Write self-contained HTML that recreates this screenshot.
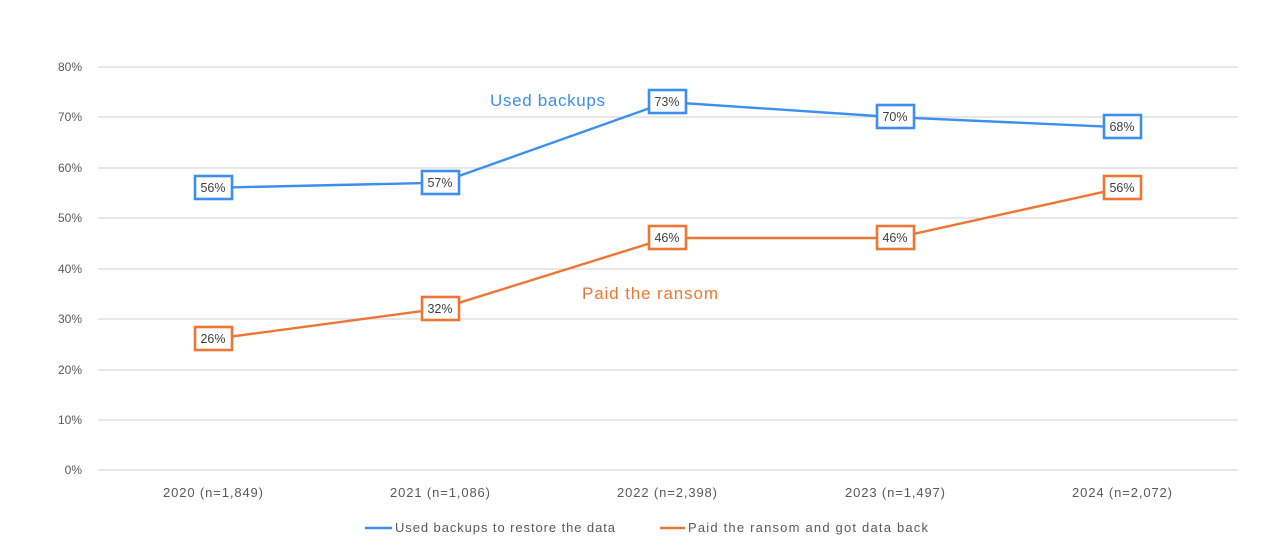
<!DOCTYPE html><html><head><style>body{margin:0;background:#fff}svg{display:block}text{font-family:"Liberation Sans",sans-serif}</style></head><body>
<svg width="1268" height="554" viewBox="0 0 1268 554">
<g stroke="#d9d9d9" stroke-width="1.3">
<line x1="98" x2="1238" y1="67" y2="67"/><line x1="98" x2="1238" y1="117" y2="117"/><line x1="98" x2="1238" y1="168" y2="168"/><line x1="98" x2="1238" y1="218" y2="218"/><line x1="98" x2="1238" y1="269" y2="269"/><line x1="98" x2="1238" y1="319" y2="319"/><line x1="98" x2="1238" y1="370" y2="370"/><line x1="98" x2="1238" y1="420" y2="420"/><line x1="98" x2="1238" y1="470" y2="470"/></g>
<g font-size="12" fill="#595959" text-anchor="end">
<text x="82" y="71">80%</text><text x="82" y="121">70%</text><text x="82" y="172">60%</text><text x="82" y="222">50%</text><text x="82" y="273">40%</text><text x="82" y="323">30%</text><text x="82" y="374">20%</text><text x="82" y="424">10%</text><text x="82" y="474">0%</text></g>
<g font-size="13" fill="#595959">
<text x="163" y="497" textLength="100">2020 (n=1,849)</text><text x="390" y="497" textLength="100">2021 (n=1,086)</text><text x="617" y="497" textLength="100">2022 (n=2,398)</text><text x="845" y="497" textLength="100">2023 (n=1,497)</text><text x="1072" y="497" textLength="100">2024 (n=2,072)</text></g>
<polyline fill="none" stroke="#3d8fef" stroke-width="2.4" points="213,187.8 440,182.7 667,102 895,117.2 1122,127.3"/>
<polyline fill="none" stroke="#ed7634" stroke-width="2.4" points="213,339 440,308.7 667,238 895,238 1122,187.8"/>
<g font-size="12.5" fill="#404040" text-anchor="middle" stroke-width="2.6">
<g stroke="#3d8fef" fill="#fff"><rect x="195" y="176" width="37" height="23"/><rect x="422" y="171" width="37" height="23"/><rect x="649" y="90" width="37" height="23"/><rect x="877" y="105" width="37" height="23"/><rect x="1104" y="115" width="37" height="23"/></g>
<g stroke="#ed7634" fill="#fff"><rect x="195" y="327" width="37" height="23"/><rect x="422" y="297" width="37" height="23"/><rect x="649" y="226" width="37" height="23"/><rect x="877" y="226" width="37" height="23"/><rect x="1104" y="176" width="37" height="23"/></g>
<text x="213" y="192">56%</text><text x="440" y="187">57%</text><text x="667" y="106">73%</text><text x="895" y="121">70%</text><text x="1122" y="131">68%</text>
<text x="213" y="343">26%</text><text x="440" y="313">32%</text><text x="667" y="242">46%</text><text x="895" y="242">46%</text><text x="1122" y="192">56%</text></g>
<text x="490" y="106" font-size="17" fill="#3d8fef" textLength="115">Used backups</text>
<text x="582" y="299" font-size="17" fill="#ed7634" textLength="136">Paid the ransom</text>
<line x1="365" x2="392" y1="528" y2="528" stroke="#3d8fef" stroke-width="2.4"/>
<text x="395" y="532" font-size="13" fill="#595959" textLength="220">Used backups to restore the data</text>
<line x1="660" x2="685" y1="528" y2="528" stroke="#ed7634" stroke-width="2.4"/>
<text x="688" y="532" font-size="13" fill="#595959" textLength="240">Paid the ransom and got data back</text>
</svg></body></html>
